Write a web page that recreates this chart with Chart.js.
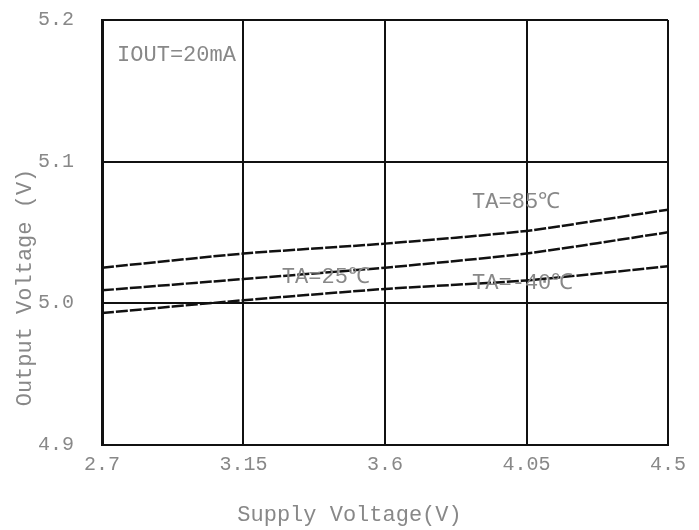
<!DOCTYPE html>
<html>
<head>
<meta charset="utf-8">
<script src="https://cdn.jsdelivr.net/npm/chart.js@4/dist/chart.umd.min.js"></script>
<style>
  html, body { margin: 0; padding: 0; background: #fff; }
  #wrap { width: 699px; height: 530px; }
</style>
</head>
<body>
<div id="wrap"><canvas id="myChart" width="699" height="530"></canvas></div>
<script>
// supply voltage sweep (V)
const supplyV = [2.7, 3.15, 3.6, 4.05, 4.5];
const xTicks = [2.7, 3.15, 3.6, 4.05, 4.5];
const yTicks = [4.9, 5.0, 5.1, 5.2];

// output voltage (V) per ambient temperature
const outTa85 = [5.025, 5.035, 5.042, 5.051, 5.066];
const outTa25 = [5.009, 5.017, 5.025, 5.035, 5.050];
const outTaM40 = [4.993, 5.002, 5.010, 5.016, 5.026];

// in-plot notes: [text, x, y] in data units
const notes = [
    ["IOUT=20mA", 2.748, 5.175],
    ["TA=85℃", 3.877, 5.071],
    ["TA=25℃", 3.272, 5.018],
    ["TA=-40℃", 3.877, 5.014],
];

const yTitle = "Output Voltage (V)";

const FONT = "'Liberation Mono', 'DejaVu Sans Mono', monospace";
const GREY = "#888";

function pts(ys) {
    return supplyV.map((x, i) => ({ x: x, y: ys[i] }));
}

function curve(label, ys) {
    return {
        label: label,
        data: pts(ys),
        borderColor: "#111",
        borderWidth: 2.5,
        borderDash: [12, 2],
        pointRadius: 0,
        tension: 0.2,
        fill: false,
    };
}

// text notes inside the plot plus the vertical axis caption (sits low, like the original sheet)
const notePlugin = {
    id: "notes",
    afterDatasetsDraw(chart) {
        const c = chart.ctx;
        const xs = chart.scales.x, ys = chart.scales.y;
        const area = chart.chartArea;
        c.save();
        c.font = "22px " + FONT;
        c.fillStyle = GREY;
        c.textBaseline = "middle";
        c.textAlign = "left";
        notes.forEach(([t, x, y]) => {
            c.fillText(t, xs.getPixelForValue(x), ys.getPixelForValue(y));
        });
        c.translate(25, area.top + (area.bottom - area.top) * 0.63);
        c.rotate(-Math.PI / 2);
        c.textAlign = "center";
        c.fillText(yTitle, 0, 0);
        c.restore();
    },
};

const ctx = document.getElementById("myChart").getContext("2d");

const myChart = new Chart(ctx, {
    type: "line",
    data: {
        datasets: [
            curve("TA=85℃", outTa85),
            curve("TA=25℃", outTa25),
            curve("TA=-40℃", outTaM40),
        ],
    },
    options: {
        responsive: false,
        animation: false,
        layout: { padding: { left: 10, right: 10, top: 20, bottom: 0 } },
        scales: {
            x: {
                type: "linear",
                min: 2.7,
                max: 4.5,
                afterBuildTicks: (s) => { s.ticks = xTicks.map((v) => ({ value: v })); },
                afterFit: (s) => {
                    s.height = 40;
                    s.paddingLeft = 0;
                    s.paddingRight = 31;
                },
                ticks: {
                    color: GREY,
                    font: { family: FONT, size: 20 },
                    padding: 8,
                    maxRotation: 0,
                    callback: (v) => String(v),
                },
                grid: { color: "#111", lineWidth: 2, drawTicks: false },
                border: { color: "#111", width: 2 },
            },
            y: {
                type: "linear",
                min: 4.9,
                max: 5.2,
                afterBuildTicks: (s) => { s.ticks = yTicks.map((v) => ({ value: v })); },
                afterFit: (s) => {
                    s.width = 92;
                    s.paddingTop = 0;
                    s.paddingBottom = 0;
                },
                ticks: {
                    color: GREY,
                    font: { family: FONT, size: 20 },
                    padding: 28,
                    callback: (v) => v.toFixed(1),
                },
                grid: { color: "#111", lineWidth: 2, drawTicks: false },
                border: { color: "#111", width: 3 },
            },
        },
        plugins: {
            legend: { display: false },
            tooltip: { enabled: false },
            title: {
                display: true,
                position: "bottom",
                text: "Supply Voltage(V)",
                color: GREY,
                font: { family: FONT, size: 22, weight: "normal" },
                padding: { top: 17, bottom: 2 },
            },
        },
    },
    plugins: [notePlugin],
});
</script>
</body>
</html>
